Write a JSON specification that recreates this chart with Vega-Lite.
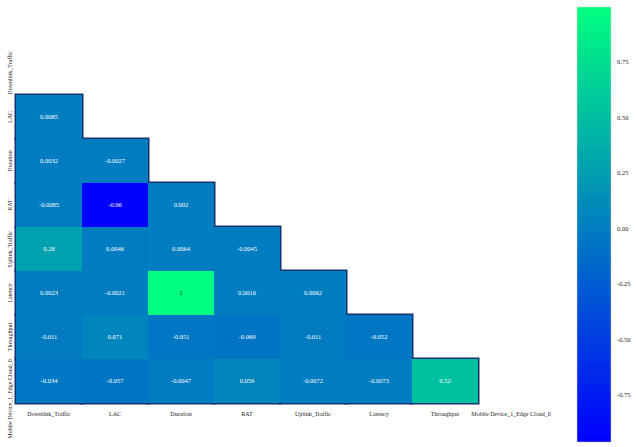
{
  "$schema": "https://vega.github.io/schema/vega-lite/v6.json",
  "autosize": "none",
  "width": 528,
  "height": 352,
  "padding": {"left": 16, "top": 51, "right": 92, "bottom": 44},
  "background": "white",
  "config": {
    "locale": {
      "number": {"decimal": ".", "thousands": ",", "grouping": [3], "currency": ["$", ""], "minus": "-"}
    },
    "view": {"stroke": null},
    "axis": {
      "labelFont": "Liberation Serif",
      "labelFontSize": 6,
      "labelColor": "#222222",
      "domain": false,
      "ticks": false,
      "grid": false,
      "title": null
    },
    "legend": {
      "labelFont": "Liberation Serif",
      "labelFontSize": 6.5,
      "labelColor": "#222222"
    }
  },
  "data": {
    "values": [
      {"row": "LAC", "col": "Downlink_Traffic", "r": 0.0085},
      {"row": "Duration", "col": "Downlink_Traffic", "r": 0.0032},
      {"row": "Duration", "col": "LAC", "r": -0.0027},
      {"row": "RAT", "col": "Downlink_Traffic", "r": -0.0085},
      {"row": "RAT", "col": "LAC", "r": -0.96},
      {"row": "RAT", "col": "Duration", "r": 0.002},
      {"row": "Uplink_Traffic", "col": "Downlink_Traffic", "r": 0.28},
      {"row": "Uplink_Traffic", "col": "LAC", "r": 0.0046},
      {"row": "Uplink_Traffic", "col": "Duration", "r": 0.0064},
      {"row": "Uplink_Traffic", "col": "RAT", "r": -0.0045},
      {"row": "Latency", "col": "Downlink_Traffic", "r": 0.0023},
      {"row": "Latency", "col": "LAC", "r": -0.0021},
      {"row": "Latency", "col": "Duration", "r": 1},
      {"row": "Latency", "col": "RAT", "r": 0.0016},
      {"row": "Latency", "col": "Uplink_Traffic", "r": 0.0062},
      {"row": "Throughput", "col": "Downlink_Traffic", "r": -0.011},
      {"row": "Throughput", "col": "LAC", "r": 0.071},
      {"row": "Throughput", "col": "Duration", "r": -0.051},
      {"row": "Throughput", "col": "RAT", "r": -0.069},
      {"row": "Throughput", "col": "Uplink_Traffic", "r": -0.011},
      {"row": "Throughput", "col": "Latency", "r": -0.052},
      {"row": "Mobile Device_1_Edge Cloud_0", "col": "Downlink_Traffic", "r": -0.034},
      {"row": "Mobile Device_1_Edge Cloud_0", "col": "LAC", "r": -0.057},
      {"row": "Mobile Device_1_Edge Cloud_0", "col": "Duration", "r": -0.0047},
      {"row": "Mobile Device_1_Edge Cloud_0", "col": "RAT", "r": 0.059},
      {"row": "Mobile Device_1_Edge Cloud_0", "col": "Uplink_Traffic", "r": -0.0072},
      {"row": "Mobile Device_1_Edge Cloud_0", "col": "Latency", "r": -0.0073},
      {"row": "Mobile Device_1_Edge Cloud_0", "col": "Throughput", "r": 0.52}
    ]
  },
  "encoding": {
    "x": {
      "field": "col",
      "type": "nominal",
      "scale": {
        "domain": ["Downlink_Traffic", "LAC", "Duration", "RAT", "Uplink_Traffic", "Latency", "Throughput", "Mobile Device_1_Edge Cloud_0"],
        "paddingInner": 0,
        "paddingOuter": 0
      },
      "axis": {"orient": "bottom", "labelAngle": 0, "labelPadding": 7}
    },
    "y": {
      "field": "row",
      "type": "nominal",
      "scale": {
        "domain": ["Downlink_Traffic", "LAC", "Duration", "RAT", "Uplink_Traffic", "Latency", "Throughput", "Mobile Device_1_Edge Cloud_0"],
        "paddingInner": 0,
        "paddingOuter": 0
      },
      "axis": {
        "orient": "left",
        "labelAngle": -90,
        "labelAlign": "center",
        "labelBaseline": "bottom",
        "labelPadding": 4,
        "labelOffset": {"condition": {"test": "datum.value === 'Mobile Device_1_Edge Cloud_0'", "value": 18}, "value": 0}
      }
    }
  },
  "layer": [
    {
      "mark": {"type": "rect", "fill": "#17326f", "stroke": "#17326f", "strokeWidth": 3}
    },
    {
      "mark": {"type": "rect", "strokeWidth": 0},
      "encoding": {
        "color": {
          "field": "r",
          "type": "quantitative",
          "scale": {"domain": [-0.96, 1], "range": ["#0000ff", "#00ff80"], "interpolate": "rgb"},
          "legend": {
            "orient": "none",
            "legendX": 561,
            "legendY": -44,
            "direction": "vertical",
            "title": null,
            "gradientLength": 435,
            "gradientThickness": 34,
            "gradientStrokeColor": "#cccccc",
            "gradientStrokeWidth": 0.5,
            "values": [-0.75, -0.5, -0.25, 0, 0.25, 0.5, 0.75],
            "format": ".2f",
            "labelOffset": 6
          }
        }
      }
    },
    {
      "mark": {"type": "text", "font": "Liberation Serif", "fontSize": 6.5},
      "encoding": {
        "text": {"field": "r", "type": "quantitative", "format": ".2~g"},
        "color": {
          "condition": {"test": "datum.r > 0.8", "value": "#1a1a1a"},
          "value": "#ffffff"
        }
      }
    }
  ]
}
